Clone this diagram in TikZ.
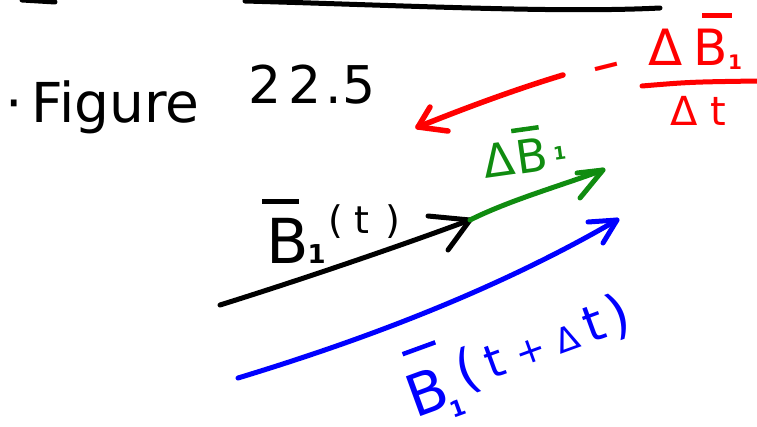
\documentclass[tikz,border=0pt]{standalone}
\usepackage{fontspec}
\setmainfont{DejaVu Sans}
\usepackage{graphicx}
\definecolor{pgreen}{RGB}{16,140,16}
\newsavebox\ovlbox
\newcommand{\ovl}[3]{\sbox\ovlbox{#3}\leavevmode\rlap{\kern#1\raisebox{\dimexpr\ht\ovlbox+#2\relax}{\rule{0.6em}{4.5pt}}}\usebox\ovlbox}
\newcommand{\fs}[1]{\fontsize{#1}{#1}\selectfont}
\newcommand{\sone}[3]{\kern#1\raisebox{#2}[0pt][0pt]{\fs{#3}\bfseries 1}}
\begin{document}
\begin{tikzpicture}[x=1pt,y=-1pt,
  pen/.style={line width=5pt,line cap=round,line join=round},
  lbl/.style={inner sep=0pt,anchor=base west}]
\useasboundingbox (0,0) rectangle (757,426);
% top line
\coordinate (tl0) at (22,0);
\coordinate (tla) at (55,2);
\coordinate (tl1) at (245,1);
\coordinate (tl2) at (660,8);
\draw[pen] (tl0) -- (tla);
\draw[pen] (tl1) .. controls (420,6) and (560,13) .. (tl2);
% title
\node[lbl] (title) at (5,122) {\fs{55}·\kern9pt Figure};
\node[lbl] (num) at (248,103) {\fs{52}2\kern7pt 2\kern4pt .\kern1pt 5};
% red
\node[anchor=base,inner sep=0pt,rotate=14,text=red] (rminus) at (609,78) {\fs{36}\bfseries −};
\node[lbl,text=red] (rnum) at (648,65) {\fs{50}Δ\kern11pt\ovl{9pt}{11pt}{B}\sone{0.5pt}{-4pt}{20}};
\node[lbl,text=red] (rden) at (670,125) {\fs{40}Δ\kern13pt t};
\coordinate (fl1) at (642,86);
\coordinate (fl2) at (757,81);
\draw[pen,red] (fl1) .. controls (690,82) .. (fl2);
\coordinate (r0) at (563,75);
\coordinate (r1) at (418,127);
\draw[pen,red,line width=5.5pt] (r0) .. controls (520,88) and (470,106) .. (r1);
\draw[pen,red,line width=5.5pt] (r1) ++(12,-20) -- (r1) -- ++(30,4);
% green
\node[lbl,text=pgreen,rotate=8] (glab) at (485,179) {\fs{46}Δ\kern2pt\ovl{-1pt}{8pt}{B}\sone{6pt}{9pt}{18}};
% black
\node[lbl] (blab) at (266,263) {\fs{62}\ovl{-4pt}{14pt}{B}\sone{-1pt}{0pt}{26}\raisebox{30pt}{\fs{38}\kern3pt(\kern11pt t\kern15.5pt)}};
\coordinate (k0) at (220,305);
\coordinate (k1) at (470,220);
\draw[pen] (k0) .. controls (300,280) and (400,246) .. (k1);
\draw[pen] (k1) ++(-42,-4) -- (k1) -- ++(-22,30);
% green arrow
\coordinate (g1) at (603,170);
\draw[pen,pgreen] (k1) .. controls (510,200) and (560,186) .. (g1);
\draw[pen,pgreen] (g1) ++(-26,3) -- (g1) -- ++(-23,28);
% blue
\coordinate (u0) at (238,378);
\coordinate (u1) at (617,220);
\draw[pen,blue] (u0) .. controls (330,350) and (480,300) .. (u1);
\draw[pen,blue] (u1) ++(-29,2) -- (u1) -- ++(-14,23);
\node[lbl,text=blue,rotate=20] (ulab) at (406,411) {\raisebox{-10pt}[0pt][0pt]{\fs{58}\kern6pt\ovl{10pt}{20pt}{B}}\sone{-4pt}{-23pt}{22}\fs{54}\kern3.6pt(\fs{46}\kern9.3pt t\fs{36}\kern13.3pt\raisebox{2pt}{+}\fs{34}\kern11.6pt Δ\fs{50}\kern9pt t\fs{54}\kern5.8pt)};
\end{tikzpicture}
\end{document}
